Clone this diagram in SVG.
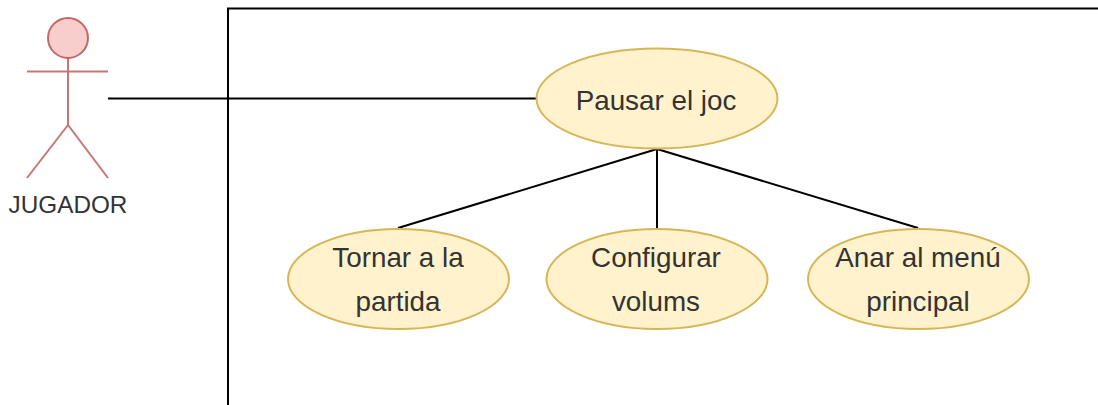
<svg xmlns="http://www.w3.org/2000/svg" width="1098" height="405" viewBox="0 0 1098 405">
<style>
text{font-family:"Liberation Sans",Arial,sans-serif;font-size:27.8px;fill:#333;text-anchor:middle}
.u{fill:#fff2cc;stroke:#d6b656;stroke-width:2}
.a{fill:none;stroke:#b85450;stroke-width:2;stroke-opacity:.8}
.c{fill:none;stroke:#000;stroke-width:2}
</style>
<rect width="1098" height="405" fill="#fff"/>
<g id="boundary"><path class="c" d="M228 405V8.500H1098"/></g>
<g id="connectors">
<path class="c" d="M108 98.500H536"/>
<path class="c" d="M657 149L398 228"/>
<path class="c" d="M657 149V228"/>
<path class="c" d="M657 149L918 228"/>
</g>
<g id="actor">
<circle cx="68" cy="38" r="20" fill="#f8cecc" stroke="#b85450" stroke-width="2" stroke-opacity=".85"/>
<path class="a" d="M68 58V125M27 71.500H108M68 125L27 178M68 125L108 178"/>
<text x="68" y="213" style="font-size:24.3px">JUGADOR</text>
</g>
<g id="pausar"><ellipse class="u" cx="657" cy="98.500" rx="120.500" ry="50"/><text x="656" y="110">Pausar el joc</text></g>
<g id="tornar"><ellipse class="u" cx="398.500" cy="279" rx="110.500" ry="50"/><text x="398" y="267">Tornar a la</text><text x="398" y="311">partida</text></g>
<g id="configurar"><ellipse class="u" cx="657" cy="279" rx="110.500" ry="50"/><text x="656" y="267">Configurar</text><text x="656" y="311">volums</text></g>
<g id="anar"><ellipse class="u" cx="918.500" cy="279" rx="110.500" ry="50"/><text x="918" y="267">Anar al menú</text><text x="918" y="311">principal</text></g>
</svg>
